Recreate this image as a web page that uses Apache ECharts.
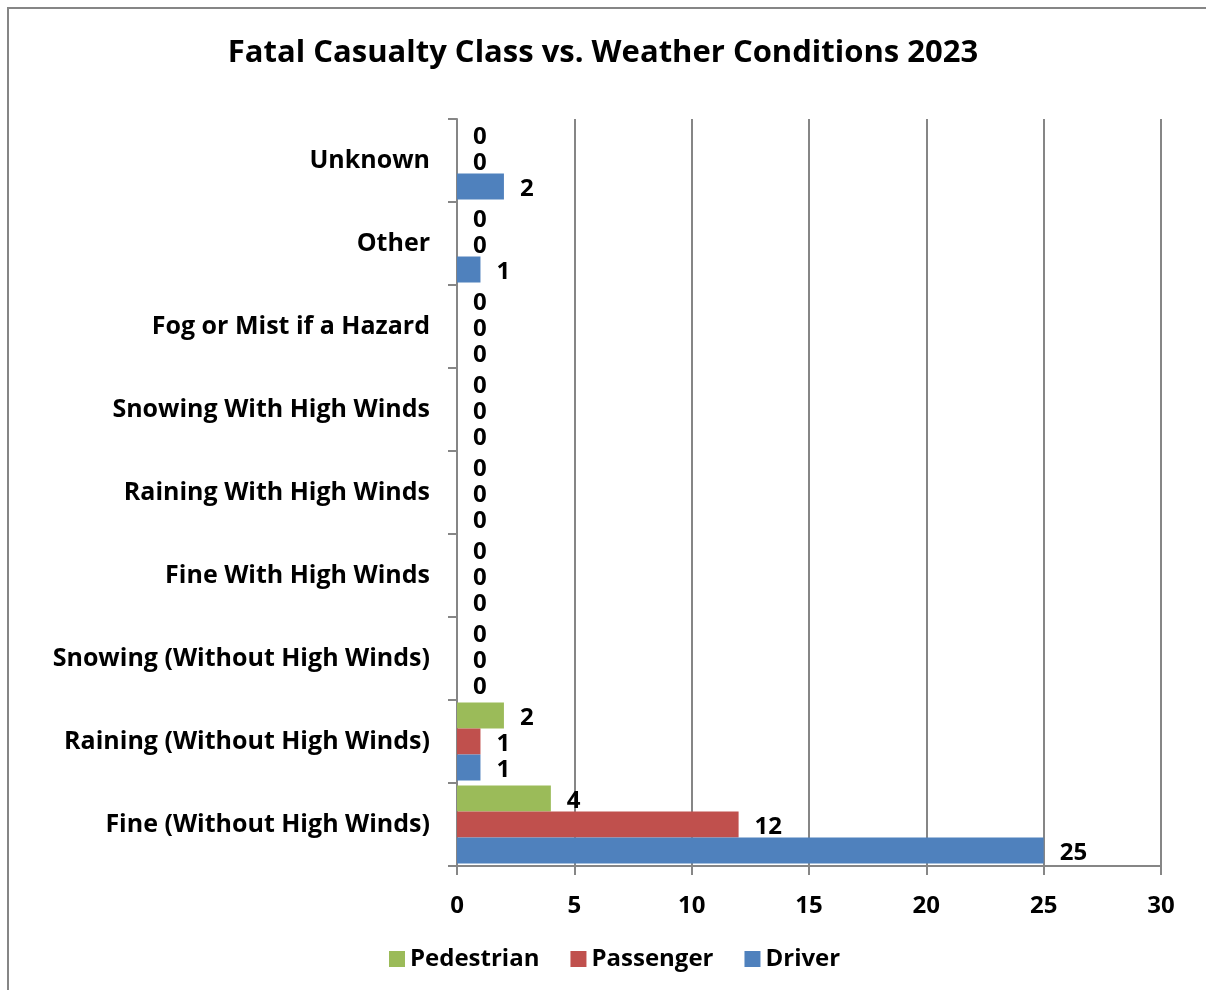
<!DOCTYPE html>
<html>
<head>
<meta charset="utf-8">
<script src="https://cdn.jsdelivr.net/npm/echarts@6/dist/echarts.min.js"></script>
<style>
  html, body { margin: 0; padding: 0; background: #ffffff; }
  #chart { width: 1206px; height: 990px; }
</style>
</head>
<body>
<div id="chart"></div>
<script>
// categories from bottom to top
const categories = [
  "Fine (Without High Winds)",
  "Raining (Without High Winds)",
  "Snowing (Without High Winds)",
  "Fine With High Winds",
  "Raining With High Winds",
  "Snowing With High Winds",
  "Fog or Mist if a Hazard",
  "Other",
  "Unknown"
];
const driver = [25, 1, 0, 0, 0, 0, 0, 1, 2];
const passenger = [12, 1, 0, 0, 0, 0, 0, 0, 0];
const pedestrian = [4, 2, 0, 0, 0, 0, 0, 0, 0];
const legendOrder = ["Pedestrian", "Passenger", "Driver"];

const font = "Open Sans";
const gray = "#868686";

const mychart = echarts.init(document.getElementById("chart"));

const label = {
  show: true,
  position: "right",
  distance: 16,
  offset: [0, 3],
  color: "#000",
  fontFamily: font,
  fontWeight: "bold",
  fontSize: 24
};

const option = {
  animation: false,
  backgroundColor: "#ffffff",
  title: {
    text: "Fatal Casualty Class vs. Weather Conditions 2023",
    left: "center",
    top: 33,
    textStyle: {
      fontFamily: font,
      fontWeight: "bold",
      fontSize: 31,
      color: "#000"
    }
  },
  graphic: [
    {
      type: "rect",
      shape: { x: 8, y: 8, width: 1400, height: 1200 },
      style: { fill: "none", stroke: gray, lineWidth: 2 },
      silent: true
    }
  ],
  legend: {
    data: legendOrder,
    bottom: 14,
    left: 384,
    itemWidth: 16,
    itemHeight: 16,
    itemGap: 31,
    icon: "rect",
    textStyle: {
      fontFamily: font,
      fontWeight: "bold",
      fontSize: 24,
      color: "#000"
    }
  },
  grid: {
    left: 457,
    right: 45,
    top: 119,
    bottom: 124,
    containLabel: false
  },
  xAxis: {
    type: "value",
    min: 0,
    max: 30,
    interval: 5,
    axisLine: { show: true, lineStyle: { color: gray, width: 2 } },
    axisTick: { show: true, length: 9, lineStyle: { color: gray, width: 2 } },
    splitLine: { show: true, lineStyle: { color: gray, width: 2 } },
    axisLabel: {
      margin: 28,
      color: "#000",
      fontFamily: font,
      fontWeight: "bold",
      fontSize: 24
    }
  },
  yAxis: {
    type: "category",
    data: categories,
    axisLine: { show: true, lineStyle: { color: gray, width: 2 } },
    axisTick: { show: true, length: 9, lineStyle: { color: gray, width: 2 } },
    splitLine: { show: false },
    axisLabel: {
      margin: 27,
      color: "#000",
      fontFamily: font,
      fontWeight: "bold",
      fontSize: 25
    }
  },
  // first series is drawn at the top of each group
  series: [
    {
      name: "Pedestrian",
      type: "bar",
      data: pedestrian,
      barGap: "0%",
      barCategoryGap: "6%",
      itemStyle: { color: "#9BBB59" },
      label: label
    },
    {
      name: "Passenger",
      type: "bar",
      data: passenger,
      barGap: "0%",
      barCategoryGap: "6%",
      itemStyle: { color: "#C0504D" },
      label: label
    },
    {
      name: "Driver",
      type: "bar",
      data: driver,
      barGap: "0%",
      barCategoryGap: "6%",
      itemStyle: { color: "#4F81BD" },
      label: label
    }
  ]
};

mychart.setOption(option);
</script>
</body>
</html>
